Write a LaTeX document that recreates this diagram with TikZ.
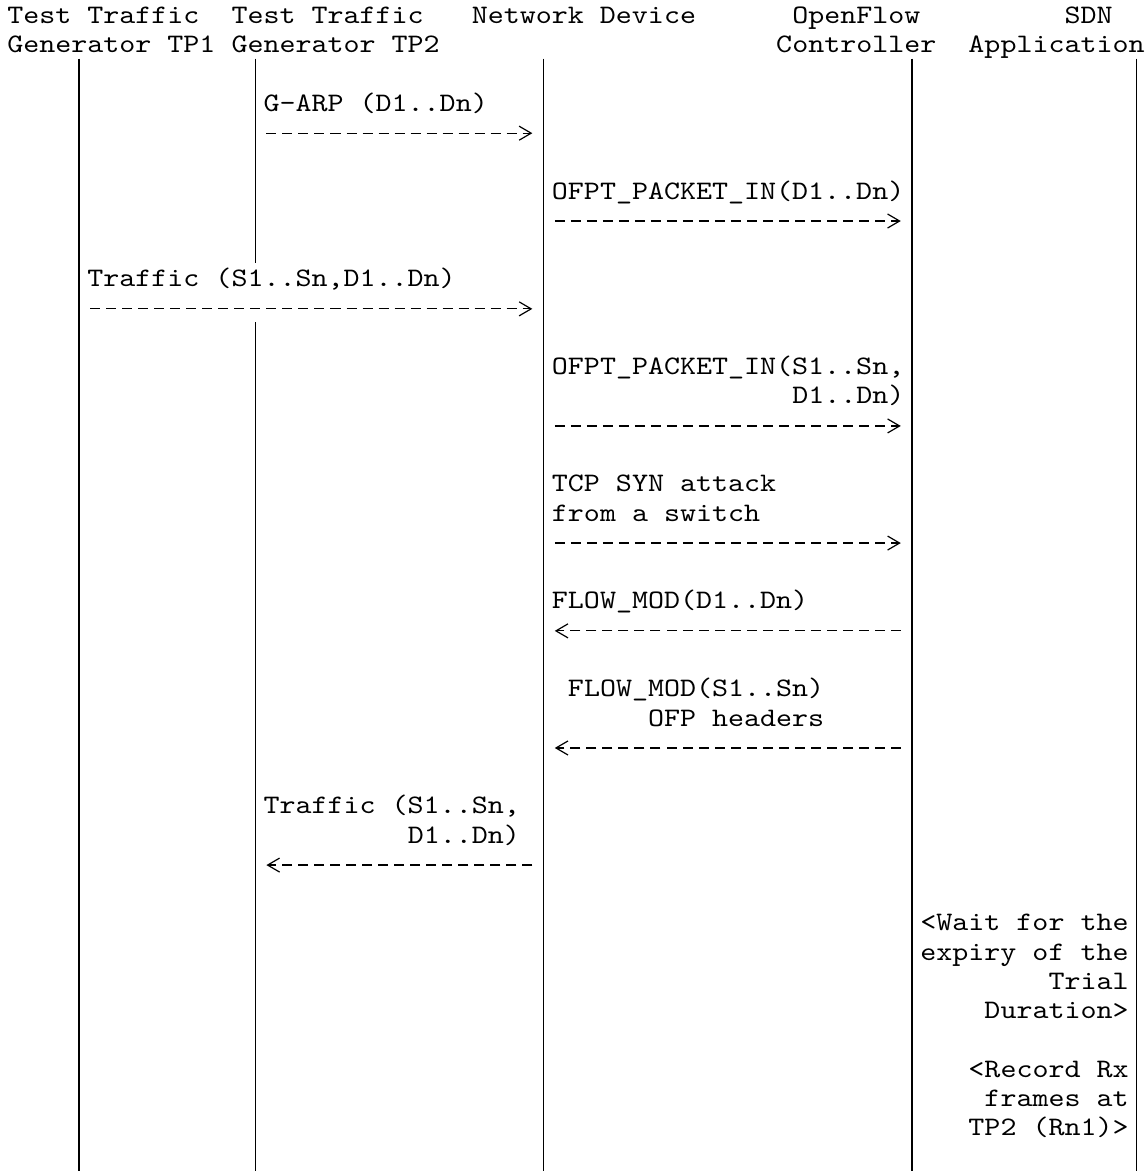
\documentclass[tikz,border=0pt]{standalone}
\usepackage{fontspec}
\usepackage{tikz}
\usetikzlibrary{arrows.meta}
\newfontfamily\seqfont{lmmono10-regular.otf}[FakeStretch=1.1428]
\tikzset{
  lbl/.style={anchor=base west, inner sep=0pt, font=\seqfont\fontsize{13.33}{14.62}\selectfont},
  life/.style={line width=0.6pt},
  msg/.style={line width=0.6pt, dash pattern=on 5pt off 3pt, shorten <=5.6pt, shorten >=5.6pt,
    -{Straight Barb[length=6pt,width=7pt]}}
}

\begin{document}
\begin{tikzpicture}[x=8pt, y=14.62pt]
    \useasboundingbox (-0.431,0) rectangle (71.23,-40);
    % headers
    \node[lbl] (tp1a) at (0,-0.8) {Test Traffic};
    \node[lbl] (tp1b) at (0,-1.8) {Generator TP1};
    \node[lbl] (tp2a) at (14,-0.8) {Test Traffic};
    \node[lbl] (tp2b) at (14,-1.8) {Generator TP2};
    \node[lbl] (nda) at (29,-0.8) {Network Device};
    \node[lbl] (ofca) at (49,-0.8) {OpenFlow};
    \node[lbl] (ofcb) at (48,-1.8) {Controller};
    \node[lbl] (appa) at (66,-0.8) {SDN};
    \node[lbl] (appb) at (60,-1.8) {Application};
    % lifelines
    \foreach \n/\c in {tp1/4.5, tp2/15.5, nd/33.5, ofc/56.5, app/70.5}{
        \coordinate (\n) at (\c,-2);
        \coordinate (\n-end) at (\c,-40);
    }
    \draw[life] (tp1) -- (tp1-end);
    \draw[life] (tp2) -- (tp2 |- 0,-9);
    \draw[life] (tp2 |- 0,-11) -- (tp2-end);
    \draw[life] (nd) -- (nd-end);
    \draw[life] (ofc) -- (ofc-end);
    \draw[life] (app) -- (app-end);
    % messages
    \node[lbl] (garp) at (16,-3.8) {G-ARP (D1..Dn)};
    \draw[msg] (tp2 |- 0,-4.55) -- (nd |- 0,-4.55);
    \node[lbl] (pin1) at (34,-6.8) {OFPT\_PACKET\_IN(D1..Dn)};
    \draw[msg] (nd |- 0,-7.55) -- (ofc |- 0,-7.55);
    \node[lbl] (traf1) at (5,-9.8) {Traffic (S1..Sn,D1..Dn)};
    \draw[msg] (tp1 |- 0,-10.55) -- (nd |- 0,-10.55);
    \node[lbl] (pin2a) at (34,-12.8) {OFPT\_PACKET\_IN(S1..Sn,};
    \node[lbl] (pin2b) at (49,-13.8) {D1..Dn)};
    \draw[msg] (nd |- 0,-14.55) -- (ofc |- 0,-14.55);
    \node[lbl] (syna) at (34,-16.8) {TCP SYN attack};
    \node[lbl] (synb) at (34,-17.8) {from a switch};
    \draw[msg] (nd |- 0,-18.55) -- (ofc |- 0,-18.55);
    \node[lbl] (fm1) at (34,-20.8) {FLOW\_MOD(D1..Dn)};
    \draw[msg] (ofc |- 0,-21.55) -- (nd |- 0,-21.55);
    \node[lbl] (fm2a) at (35,-23.8) {FLOW\_MOD(S1..Sn)};
    \node[lbl] (fm2b) at (40,-24.8) {OFP headers};
    \draw[msg] (ofc |- 0,-25.55) -- (nd |- 0,-25.55);
    \node[lbl] (traf2a) at (16,-27.8) {Traffic (S1..Sn,};
    \node[lbl] (traf2b) at (25,-28.8) {D1..Dn)};
    \draw[msg] (nd |- 0,-29.55) -- (tp2 |- 0,-29.55);
    % application notes
    \node[lbl] (wait1) at (57,-31.8) {<Wait for the};
    \node[lbl] (wait2) at (57,-32.8) {expiry of the};
    \node[lbl] (wait3) at (65,-33.8) {Trial};
    \node[lbl] (wait4) at (61,-34.8) {Duration>};
    \node[lbl] (rec1) at (60,-36.8) {<Record Rx};
    \node[lbl] (rec2) at (61,-37.8) {frames at};
    \node[lbl] (rec3) at (60,-38.8) {TP2 (Rn1)>};
\end{tikzpicture}
\end{document}
